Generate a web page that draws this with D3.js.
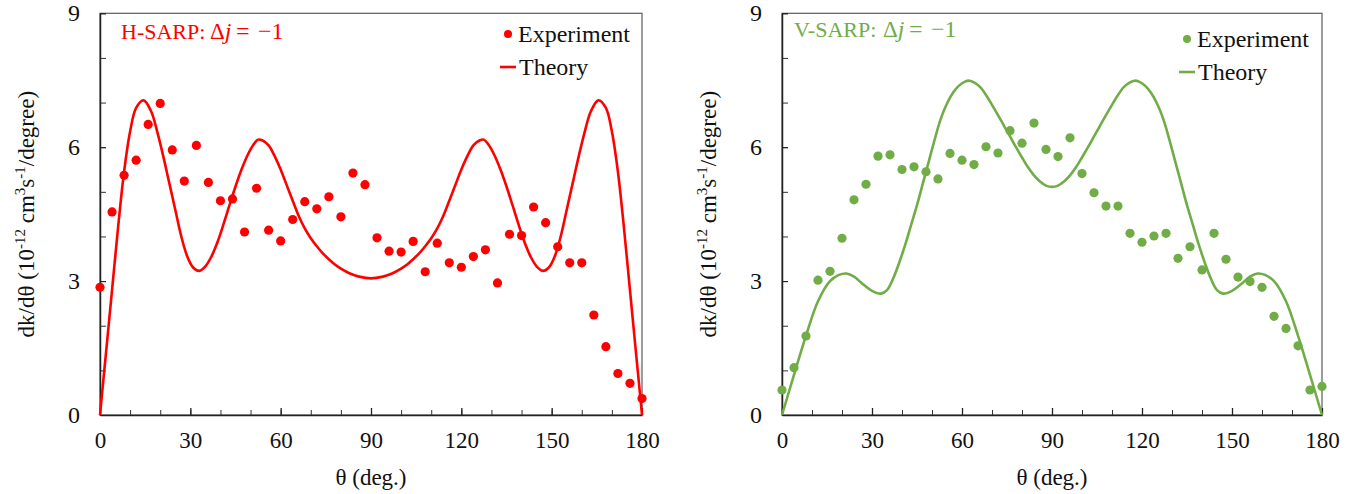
<!DOCTYPE html>
<html>
<head>
<meta charset="utf-8">
<script src="https://cdn.jsdelivr.net/npm/d3@7"></script>
<style>
  body { margin: 0; background: #fff; }
  svg text { font-family: "Liberation Serif", "Times New Roman", serif; }
</style>
</head>
<body>
<svg id="chart" width="1369" height="494"></svg>
<script>
// scattering angles of the measured points (deg.)
const expAngles = [0, 4, 8, 12, 16, 20, 24, 28, 32, 36, 40, 44, 48, 52, 56, 60, 64, 68, 72, 76,
    80, 84, 88, 92, 96, 100, 104, 108, 112, 116, 120, 124, 128, 132, 136, 140, 144, 148, 152, 156,
    160, 164, 168, 172, 176, 180];

// H-SARP experiment
const hExp = [2.86, 4.55, 5.37, 5.71, 6.51, 6.98, 5.94, 5.24, 6.04, 5.21, 4.80, 4.84, 4.10, 5.08, 4.14, 3.90, 4.38, 4.78, 4.62, 4.89,
    4.44, 5.42, 5.16, 3.97, 3.67, 3.65, 3.89, 3.21, 3.85, 3.41, 3.31, 3.55, 3.70, 2.96, 4.05, 4.02, 4.66, 4.31, 3.77, 3.41,
    3.41, 2.24, 1.53, 0.93, 0.71, 0.37];

// V-SARP experiment
const vExp = [0.56, 1.06, 1.77, 3.02, 3.22, 3.96, 4.82, 5.17, 5.80, 5.83, 5.50, 5.56, 5.45, 5.29, 5.86, 5.71, 5.61, 6.01, 5.87, 6.37,
    6.09, 6.54, 5.95, 5.79, 6.21, 5.41, 4.98, 4.68, 4.68, 4.07, 3.87, 4.01, 4.07, 3.51, 3.77, 3.25, 4.07, 3.49, 3.09, 2.99,
    2.86, 2.21, 1.94, 1.55, 0.56, 0.64];

// H-SARP theory curve
const hTheoryAngles = [0, 2, 4, 6, 8, 10, 12, 14.5, 17, 19, 21, 23, 25, 27, 29, 31, 33, 35, 37, 39,
    41, 43, 45, 47, 49, 51, 52.5, 54, 56, 58, 60, 62, 64, 66, 68, 70, 72, 74, 76, 78,
    80, 83, 86, 90, 94, 97, 100, 102, 104, 106, 108, 110, 112, 114, 116, 118, 120, 122, 124, 126,
    127.5, 129, 131, 133, 135, 137, 139, 141, 143, 145, 147, 149, 151, 153, 155, 157, 159, 161, 163, 165.5,
    168, 170, 172, 174, 176, 178, 180];
const hTheory = [0, 1.4, 2.8, 4.2, 5.45, 6.35, 6.88, 7.05, 6.8, 6.35, 5.8, 5.2, 4.6, 4.0, 3.55, 3.3, 3.23, 3.33, 3.55, 3.87,
    4.27, 4.7, 5.12, 5.5, 5.82, 6.06, 6.17, 6.15, 6.04, 5.8, 5.5, 5.15, 4.8, 4.46, 4.18, 3.96, 3.78, 3.62, 3.49, 3.37,
    3.28, 3.17, 3.1, 3.06, 3.1, 3.17, 3.28, 3.37, 3.49, 3.62, 3.78, 3.96, 4.18, 4.46, 4.8, 5.15, 5.5, 5.8, 6.04, 6.15,
    6.17, 6.06, 5.82, 5.5, 5.12, 4.7, 4.27, 3.87, 3.55, 3.33, 3.23, 3.3, 3.55, 4.0, 4.6, 5.2, 5.8, 6.35, 6.8, 7.05,
    6.88, 6.35, 5.45, 4.2, 2.8, 1.4, 0];

// V-SARP theory curve
const vTheoryAngles = [0, 4, 8, 12, 16, 19, 21.5, 24, 27, 30, 33, 35, 37, 39, 41, 43, 45, 47, 49, 51,
    53, 55, 57, 59, 61, 62.5, 64, 66, 68, 70, 72, 74, 76, 78, 80, 82, 84, 86, 88, 90,
    92, 94, 96, 98, 100, 102, 104, 106, 108, 110, 112, 114, 116, 117.5, 119, 121, 123, 125, 127, 129,
    131, 133, 135, 137, 139, 141, 143, 145, 147, 150, 153, 156, 158.5, 161, 164, 168, 172, 176, 180];
const vTheory = [0, 0.9, 1.78, 2.55, 3.0, 3.14, 3.17, 3.1, 2.93, 2.78, 2.72, 2.8, 3.05, 3.4, 3.8, 4.25, 4.7, 5.2, 5.7, 6.2,
    6.65, 6.98, 7.22, 7.38, 7.47, 7.49, 7.45, 7.35, 7.17, 6.95, 6.72, 6.48, 6.24, 6.0, 5.77, 5.55, 5.37, 5.23, 5.14, 5.11,
    5.14, 5.23, 5.37, 5.55, 5.77, 6.0, 6.24, 6.48, 6.72, 6.95, 7.17, 7.35, 7.45, 7.49, 7.47, 7.38, 7.22, 6.98, 6.65, 6.2,
    5.7, 5.2, 4.7, 4.25, 3.8, 3.4, 3.05, 2.8, 2.72, 2.78, 2.93, 3.1, 3.17, 3.14, 3.0, 2.55, 1.78, 0.9, 0];

// ticks
const xTickLabels = [0, 30, 60, 90, 120, 150, 180];
const xMinorTicks = [0, 10, 20, 30, 40, 50, 60, 70, 80, 90, 100, 110, 120, 130, 140, 150, 160, 170, 180];
const yTickLabels = [0, 3, 6, 9];
const yMinorTicks = [0, 1, 2, 3, 4, 5, 6, 7, 8, 9];

const legendLabels = ['Experiment', 'Theory'];

const svg = d3.select('#chart');
const serif = '"Liberation Serif", "Times New Roman", serif';

function drawPanel(opt) {
    const x = d3.scaleLinear().domain([0, 180]).range([opt.left, opt.right]);
    const y = d3.scaleLinear().domain([0, 9]).range([415, 13.3]);
    const g = svg.append('g');

    // frame
    g.append('rect')
        .attr('x', x(0)).attr('y', y(9))
        .attr('width', x(180) - x(0)).attr('height', y(0) - y(9))
        .attr('fill', 'none').attr('stroke', '#5a5a5a').attr('stroke-width', 1.2);

    // minor ticks
    g.append('g')
        .attr('transform', `translate(0,${y(0)})`)
        .call(d3.axisBottom(x).tickValues(xMinorTicks).tickSize(-5).tickFormat(''))
        .call(a => a.select('.domain').remove())
        .selectAll('line').attr('stroke', '#333');
    g.append('g')
        .attr('transform', `translate(${x(0)},0)`)
        .call(d3.axisLeft(y).tickValues(yMinorTicks).tickSize(-6).tickFormat(''))
        .call(a => a.select('.domain').remove())
        .selectAll('line').attr('stroke', '#333');

    // labelled axes
    const xAxis = g.append('g')
        .attr('transform', `translate(0,${y(0)})`)
        .call(d3.axisBottom(x).tickValues(xTickLabels).tickSizeInner(-7).tickSizeOuter(0).tickPadding(17));
    xAxis.select('.domain').attr('stroke', '#222').attr('stroke-width', 1.5);
    xAxis.selectAll('line').attr('stroke', '#222').attr('stroke-width', 1.3);
    xAxis.selectAll('text').attr('font-size', 23).attr('fill', '#111').style('font-family', serif);

    const yAxis = g.append('g')
        .attr('transform', `translate(${x(0)},0)`)
        .call(d3.axisLeft(y).tickValues(yTickLabels).tickSizeInner(-6).tickSizeOuter(0).tickPadding(20));
    yAxis.select('.domain').attr('stroke', '#222').attr('stroke-width', 1.5);
    yAxis.selectAll('line').attr('stroke', '#222');
    yAxis.selectAll('text').attr('font-size', 24).attr('fill', '#111').style('font-family', serif);

    // axis titles
    g.append('text')
        .attr('x', (x(0) + x(180)) / 2).attr('y', 485)
        .attr('text-anchor', 'middle').attr('font-size', 23).attr('fill', '#111')
        .text('θ (deg.)');

    const yt = g.append('text')
        .attr('transform', `translate(${opt.left - 66},${(y(0) + y(9)) / 2}) rotate(-90)`)
        .attr('text-anchor', 'middle').attr('font-size', 23).attr('fill', '#111');
    yt.append('tspan').text('dk/dθ (10');
    yt.append('tspan').attr('font-size', 15).attr('dy', -9).text('-12');
    yt.append('tspan').attr('dy', 9).text(' cm');
    yt.append('tspan').attr('font-size', 15).attr('dy', -9).text('3');
    yt.append('tspan').attr('dy', 9).text('s');
    yt.append('tspan').attr('font-size', 15).attr('dy', -9).text('-1');
    yt.append('tspan').attr('dy', 9).text('/degree)');

    // theory curve
    const pts = opt.theoryAngles.map((a, i) => [a, opt.theory[i]]);
    g.append('path')
        .datum(pts)
        .attr('fill', 'none')
        .attr('stroke', opt.color)
        .attr('stroke-width', 2.6)
        .attr('d', d3.line().x(d => x(d[0])).y(d => y(d[1])).curve(d3.curveCatmullRom.alpha(0.5)));

    // experiment points
    g.append('g').selectAll('circle')
        .data(expAngles.map((a, i) => [a, opt.exp[i]]))
        .join('circle')
        .attr('cx', d => x(d[0]))
        .attr('cy', d => y(d[1]))
        .attr('r', 4.6)
        .attr('fill', opt.color);

    // panel title, math part spaced like an equation
    const tx = x(0) + opt.titleDx;
    const t = g.append('text')
        .attr('y', opt.titleY)
        .attr('font-size', 22).attr('fill', opt.color);
    t.append('tspan').attr('x', tx).text(opt.title + ':');
    t.append('tspan').attr('x', tx + 89).attr('font-size', 23).text('Δ');
    t.append('tspan').attr('font-style', 'italic').attr('font-size', 24).text('j');
    t.append('tspan').attr('x', tx + 115).attr('font-size', 24).text('=');
    t.append('tspan').attr('x', tx + 137).attr('font-size', 24).text('−1');

    // legend
    const lx = x(180) + opt.legendDx;
    g.append('circle')
        .attr('cx', lx + 8).attr('cy', opt.legendY - 8).attr('r', 4).attr('fill', opt.color);
    g.append('text')
        .attr('x', lx + 18).attr('y', opt.legendY)
        .attr('font-size', 24).attr('fill', '#111').text(legendLabels[0]);
    g.append('line')
        .attr('x1', lx).attr('x2', lx + 16)
        .attr('y1', opt.legendY + 25).attr('y2', opt.legendY + 25)
        .attr('stroke', opt.color).attr('stroke-width', 2.6);
    g.append('text')
        .attr('x', lx + 19).attr('y', opt.legendY + 33)
        .attr('font-size', 24).attr('fill', '#111').text(legendLabels[1]);
}

drawPanel({
    left: 100, right: 642, color: '#ff0000',
    exp: hExp, theoryAngles: hTheoryAngles, theory: hTheory,
    title: 'H-SARP', titleDx: 21, titleY: 38.5,
    legendDx: -142, legendY: 42
});

drawPanel({
    left: 782, right: 1322, color: '#70ad47',
    exp: vExp, theoryAngles: vTheoryAngles, theory: vTheory,
    title: 'V-SARP', titleDx: 12, titleY: 37,
    legendDx: -143, legendY: 47
});
</script>
</body>
</html>
